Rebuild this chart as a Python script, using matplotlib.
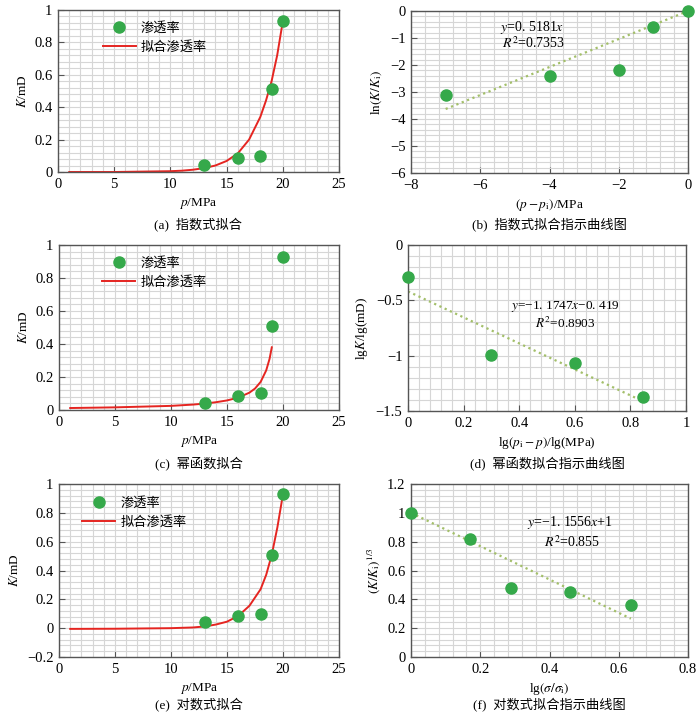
import numpy as np
import matplotlib
matplotlib.use('Agg')
import matplotlib.pyplot as plt
from matplotlib.ticker import MultipleLocator, AutoMinorLocator, FuncFormatter

plt.rcParams['font.family'] = ['Liberation Serif', 'Noto Sans CJK SC']
plt.rcParams['mathtext.fontset'] = 'stix'
plt.rcParams['axes.unicode_minus'] = True

# measured points (a, c, e)
p_meas = [13, 16, 18, 19, 20]
k_meas = [0.045, 0.085, 0.10, 0.51, 0.93]

# fitted curves
p_exp = [1, 5, 10, 11, 12, 13, 14, 15, 16, 17, 18, 18.5, 19, 19.5, 20]
k_exp = [0.0, 0.0, 0.005, 0.008, 0.014, 0.024, 0.04, 0.068, 0.115, 0.2, 0.34, 0.44, 0.56, 0.72, 0.93]

p_pow = [1, 5, 10, 12, 13, 14, 15, 16, 17, 17.5, 18, 18.5, 18.8, 19]
k_pow = [0.012, 0.016, 0.025, 0.033, 0.039, 0.047, 0.058, 0.075, 0.105, 0.13, 0.17, 0.24, 0.31, 0.38]

p_log = [1, 5, 10, 12, 13, 14, 15, 16, 17, 18, 18.5, 19, 19.5, 20]
k_log = [-0.005, -0.004, 0.0, 0.005, 0.012, 0.025, 0.045, 0.085, 0.155, 0.27, 0.37, 0.51, 0.70, 0.93]

# indicator plots
b_x = [-7, -4, -2, -1, 0]
b_y = [-3.1, -2.4, -2.2, -0.6, 0]
b_trend_x = [-7, 0]
b_trend_y = [-3.63, 0]

d_x = [0, 0.30, 0.60, 0.845]
d_y = [-0.29, -0.99, -1.07, -1.37]
d_trend_x = [0, 0.845]
d_trend_y = [-0.419, -1.412]

f_x = [0, 0.17, 0.29, 0.46, 0.635]
f_y = [1.0, 0.82, 0.48, 0.45, 0.36]
f_trend_x = [0, 0.635]
f_trend_y = [1.0, 0.266]

GREEN = '#35a94a'
RED = '#e52521'
TREND = '#a3bf6a'

W, H = 700, 714
fig = plt.figure(figsize=(W / 100, H / 100), dpi=100)


def make_ax(l, r, t, b):
    return fig.add_axes([l / W, 1 - b / H, (r - l) / W, (b - t) / H])


def style(ax, xlim, ylim, xmaj, ymaj):
    ax.set_xlim(xlim)
    ax.set_ylim(ylim)
    ax.xaxis.set_major_locator(MultipleLocator(xmaj))
    ax.yaxis.set_major_locator(MultipleLocator(ymaj))
    ax.xaxis.set_minor_locator(AutoMinorLocator(5))
    ax.yaxis.set_minor_locator(AutoMinorLocator(5))
    fmt = FuncFormatter(lambda v, pos: ('%g' % round(v, 3)).replace('-', '\u2212'))
    ax.xaxis.set_major_formatter(fmt)
    ax.yaxis.set_major_formatter(fmt)
    ax.grid(which='both', color='#d6d6d6', linewidth=0.8)
    ax.set_axisbelow(True)
    ax.tick_params(which='major', direction='in', length=4, width=0.8, labelsize=10.5,
                   color='#555555', pad=4)
    ax.tick_params(which='minor', length=0)
    for s in ax.spines.values():
        s.set_color('#555555')
        s.set_linewidth(1.0)


def add_caption(ax, cap, cap_y):
    bb = ax.get_position()
    fig.text((bb.x0 + bb.x1) / 2, 1 - cap_y / H, cap, ha='center', va='center', fontsize=9.5)


def fit_panel(ax, px, ky, ylim, ymaj, leg_anchor, cap, cap_y):
    ax.plot(p_meas, k_meas, 'o', color=GREEN, ms=8, mec=GREEN, label='渗透率', zorder=3)
    ax.plot(px, ky, '-', color=RED, lw=1.4, label='拟合渗透率', zorder=2)
    style(ax, (0, 25), ylim, 5, ymaj)
    ax.set_xlabel('$p$/MPa', fontsize=9.5, labelpad=4)
    ax.set_ylabel('$K$/mD', fontsize=9.5, labelpad=4)
    ax.legend(loc='upper left', bbox_to_anchor=leg_anchor, frameon=False, fontsize=9.5,
              handlelength=2.5, handletextpad=0.4, labelspacing=0.45, borderaxespad=0)
    add_caption(ax, cap, cap_y)


def ind_panel(ax, x, y, tx, ty, cap, cap_y):
    ax.plot(tx, ty, linestyle=(0, (1, 1.6)), color=TREND, lw=1.6, zorder=2)
    ax.plot(x, y, 'o', color=GREEN, ms=8, mec=GREEN, zorder=3, clip_on=False)
    add_caption(ax, cap, cap_y)


# (a)
ax_a = make_ax(58, 339, 10, 172)
fit_panel(ax_a, p_exp, k_exp, (0, 1), 0.2, (0.14, 0.96), '(a)  指数式拟合', 224)

# (b)
ax_b = make_ax(411, 688, 11, 173)
style(ax_b, (-8, 0), (-6, 0), 2, 1)
ind_panel(ax_b, b_x, b_y, b_trend_x, b_trend_y, '(b)  指数式拟合指示曲线图', 224)
ax_b.set_xlabel('$(p\u2212p_\\mathrm{i})$/MPa', fontsize=9.5, labelpad=4)
ax_b.set_ylabel('ln$(K/K_\\mathrm{i})$', fontsize=9.5, labelpad=4)
ax_b.text(0.32, 0.9, '$y$=0. 5181$x$', transform=ax_b.transAxes, fontsize=10, va='center')
ax_b.text(0.328, 0.8, '$R^2$=0.7353', transform=ax_b.transAxes, fontsize=10, va='center')

# (c)
ax_c = make_ax(59, 339, 245, 410)
fit_panel(ax_c, p_pow, k_pow, (0, 1), 0.2, (0.135, 0.96), '(c)  幂函数拟合', 463)

# (d)
ax_d = make_ax(408, 686, 245, 411)
style(ax_d, (0, 1), (-1.5, 0), 0.2, 0.5)
ind_panel(ax_d, d_x, d_y, d_trend_x, d_trend_y, '(d)  幂函数拟合指示曲线图', 463)
ax_d.set_xlabel('lg$(p_\\mathrm{i}\u2212p)$/lg(MPa)', fontsize=9.5, labelpad=4)
ax_d.set_ylabel('lg$K$/lg(mD)', fontsize=9.5, labelpad=4)
ax_d.text(0.565, 0.63, '$y$=\u22121. 1747$x$\u22120. 419', transform=ax_d.transAxes, fontsize=9.5,
          ha='center', va='center')
ax_d.text(0.565, 0.53, '$R^2$=0.8903', transform=ax_d.transAxes, fontsize=9.5, ha='center', va='center')

# (e)
ax_e = make_ax(59, 339, 484, 657)
fit_panel(ax_e, p_log, k_log, (-0.2, 1), 0.2, (0.065, 0.955), '(e)  对数式拟合', 704)

# (f)
ax_f = make_ax(411, 688, 484, 657)
style(ax_f, (0, 0.8), (0, 1.2), 0.2, 0.2)
ind_panel(ax_f, f_x, f_y, f_trend_x, f_trend_y, '(f)  对数式拟合指示曲线图', 704)
ax_f.set_xlabel('lg$(\\sigma/\\sigma_\\mathrm{i})$', fontsize=9.5, labelpad=4)
ax_f.set_ylabel('$(K/K_\\mathrm{i})^{1/3}$', fontsize=9.5, labelpad=4)
ax_f.text(0.575, 0.775, '$y$=\u22121. 1556$x$+1', transform=ax_f.transAxes, fontsize=10,
          ha='center', va='center')
ax_f.text(0.58, 0.665, '$R^2$=0.855', transform=ax_f.transAxes, fontsize=10, ha='center', va='center')

fig.savefig('out.png', dpi=100)
